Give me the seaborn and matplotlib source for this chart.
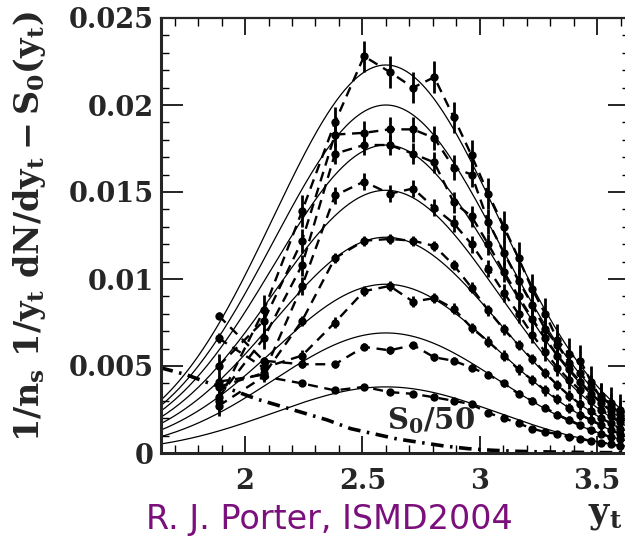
import numpy as np
import pandas as pd
import matplotlib
matplotlib.use("Agg")
import matplotlib.pyplot as plt
import seaborn as sns
from matplotlib.ticker import MultipleLocator, FixedLocator, FuncFormatter

# transverse rapidity bin centres (pt = 0.45 ... 2.55 GeV/c)
yt_bins = [1.887, 2.080, 2.243, 2.383, 2.507, 2.616, 2.716, 2.806, 2.889, 2.965, 3.036,
           3.103, 3.165, 3.224, 3.279, 3.331, 3.381, 3.429, 3.474, 3.518, 3.559, 3.599]

# hard-component data, one list per multiplicity class (highest first)
mult_1 = [0.0030, 0.0082, 0.0139, 0.0190, 0.0228, 0.0219, 0.0210, 0.0216, 0.0193, 0.0171, 0.0149,
          0.0130, 0.0112, 0.0094, 0.0080, 0.0065, 0.0057, 0.0053, 0.0041, 0.0031, 0.0029, 0.0025]
mult_2 = [0.0050, 0.0076, 0.0122, 0.0183, 0.0184, 0.0186, 0.0186, 0.0181, 0.0164, 0.0160, 0.0133,
          0.0115, 0.0099, 0.0085, 0.0071, 0.0062, 0.0052, 0.0046, 0.0038, 0.0033, 0.0027, 0.0023]
mult_3 = [0.0032, 0.0066, 0.0108, 0.0172, 0.0177, 0.0177, 0.0172, 0.0167, 0.0144, 0.0136, 0.0120,
          0.0104, 0.0090, 0.0077, 0.0066, 0.0056, 0.0048, 0.0041, 0.0034, 0.0029, 0.0024, 0.0020]
mult_4 = [0.0038, 0.0046, 0.0096, 0.0148, 0.0156, 0.0149, 0.0152, 0.0141, 0.0132, 0.0120, 0.0106,
          0.0092, 0.0080, 0.0068, 0.0058, 0.0049, 0.0042, 0.0036, 0.0030, 0.0025, 0.0021, 0.0018]
mult_5 = [0.0041, 0.0045, 0.0076, 0.0112, 0.0122, 0.0123, 0.0122, 0.0119, 0.0108, 0.0095, 0.0082,
          0.0071, 0.0062, 0.0054, 0.0046, 0.0039, 0.0033, 0.0028, 0.0024, 0.0020, 0.0017, 0.0014]
mult_6 = [0.0066, 0.0049, 0.0056, 0.0075, 0.0093, 0.0096, 0.0087, 0.0089, 0.0083, 0.0072, 0.0064,
          0.0056, 0.0048, 0.0042, 0.0036, 0.0031, 0.0026, 0.0022, 0.0019, 0.0016, 0.0013, 0.0011]
mult_7 = [0.0079, 0.0053, 0.0051, 0.0051, 0.0061, 0.0059, 0.0062, 0.0055, 0.0053, 0.0049, 0.0045,
          0.0040, 0.0034, 0.0030, 0.0026, 0.0022, 0.0019, 0.0016, 0.0013, 0.0011, 0.0009, 0.0008]
mult_8 = [0.0027, 0.0044, 0.0040, 0.0036, 0.0038, 0.0035, 0.0034, 0.0032, 0.0030, 0.0028, 0.0023,
          0.0020, 0.0017, 0.0014, 0.0012, 0.0011, 0.0009, 0.0008, 0.0007, 0.0006, 0.0005, 0.0004]
series = [mult_1, mult_2, mult_3, mult_4, mult_5, mult_6, mult_7, mult_8]
errors = [0.0009, 0.0007, 0.0006, 0.0005, 0.0003, 0.0003, 0.0002, 0.0001]

# Gaussian hard-component model: amplitude per class, common centroid and width
model_amp = [0.0223, 0.0200, 0.0177, 0.0151, 0.0124, 0.0097, 0.0069, 0.0038]
model_center = 2.60
model_width = 0.48

# soft component S0 scaled by 1/50
s0_yt = [1.64, 1.75, 1.85, 1.95, 2.05, 2.15, 2.25, 2.35, 2.45, 2.55, 2.65,
         2.75, 2.85, 2.95, 3.05, 3.15, 3.25, 3.35, 3.45, 3.55, 3.64]
s0_val = [0.0049, 0.0045, 0.0040, 0.0036, 0.0031, 0.0027, 0.0023, 0.0019, 0.0014, 0.0011, 0.0008,
          0.0006, 0.0004, 0.00025, 0.00016, 0.0001, 0.00007, 0.00005, 0.00003, 0.00002, 0.00001]

sns.set_style("ticks")
plt.rcParams["mathtext.fontset"] = "custom"
plt.rcParams["mathtext.rm"] = "DejaVu Serif:bold"
plt.rcParams["mathtext.it"] = "DejaVu Serif:bold"
plt.rcParams["mathtext.bf"] = "DejaVu Serif:bold"

fig = plt.figure(figsize=(6.25, 5.36), dpi=100)
ax = fig.add_axes([161 / 625, 83 / 536, 469 / 625, 435 / 536])

xgrid = np.linspace(1.64, 3.64, 300)
for amp in model_amp:
    curve = pd.DataFrame({"yt": xgrid,
                          "v": amp * np.exp(-(xgrid - model_center) ** 2 / (2 * model_width ** 2))})
    sns.lineplot(data=curve, x="yt", y="v", ax=ax, color="black", lw=0.9, estimator=None)

for vals, err in zip(series, errors):
    d = pd.DataFrame({"yt": yt_bins, "v": vals})
    sns.lineplot(data=d, x="yt", y="v", ax=ax, color="black", lw=1.7,
                 linestyle=(0, (4.2, 2.8)), marker="o", markersize=6, markeredgewidth=0,
                 estimator=None)
    ax.errorbar(yt_bins, vals, yerr=err, fmt="none", ecolor="black", elinewidth=2.0, capsize=0)

s0 = pd.DataFrame({"yt": s0_yt, "v": s0_val})
sns.lineplot(data=s0, x="yt", y="v", ax=ax, color="black", lw=2.6,
             linestyle=(0, (3.5, 1.8, 0.7, 1.8)), estimator=None)
ax.text(2.605, 0.00135, r"$\mathbf{S_0/50}$", fontsize=21, ha="left", va="baseline")

ax.set_xlim(1.642, 3.64)
ax.set_ylim(0, 0.025)
ax.xaxis.set_major_locator(FixedLocator([2.0, 2.5, 3.0, 3.5]))
ax.xaxis.set_minor_locator(MultipleLocator(0.1))
ax.yaxis.set_major_locator(MultipleLocator(0.005))
ax.yaxis.set_minor_locator(MultipleLocator(0.001))
ax.xaxis.set_major_formatter(FuncFormatter(lambda v, p: f"{v:g}"))
ax.yaxis.set_major_formatter(FuncFormatter(lambda v, p: f"{v:g}"))
ax.tick_params(which="both", direction="in", top=True, right=True, color="black")
ax.tick_params(axis="x", which="major", length=12.5, width=1.2, pad=11)
ax.tick_params(axis="y", which="major", length=16, width=1.2, pad=5)
ax.tick_params(which="minor", length=6, width=1.0)
for lab in ax.get_xticklabels() + ax.get_yticklabels():
    lab.set_fontfamily("DejaVu Serif")
    lab.set_fontweight("bold")
    lab.set_fontsize(19.5)
for side in ["left", "bottom"]:
    ax.spines[side].set_linewidth(2.2)
for side in ["top", "right"]:
    ax.spines[side].set_linewidth(1.6)
ax.set_xlabel("")
ax.set_ylabel("")

fig.text(30 / 625, 1 - 227 / 536, r"$\mathbf{1/n_s\ 1/y_t\ dN/dy_t - S_0(y_t)}$",
         rotation=90, ha="center", va="center", fontsize=24)
fig.text(588 / 625, 1 - 522 / 536, r"$\mathbf{y_t}$", fontsize=25, ha="left", va="baseline")
fig.text(146 / 625, 1 - 529 / 536, "R. J. Porter, ISMD2004", fontsize=24,
         family="DejaVu Sans", color="#7b0f7b", ha="left", va="baseline")

fig.savefig("out.png", dpi=100)
